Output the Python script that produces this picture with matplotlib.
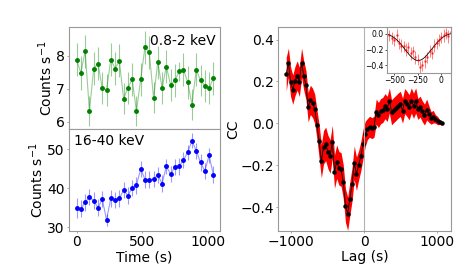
import numpy as np
import matplotlib
matplotlib.use("Agg")
import matplotlib.pyplot as plt

# light curves (33 bins)
time = [0, 32.5, 65, 97.5, 130, 162.5, 195, 227.5, 260, 292.5, 325,
        357.5, 390, 422.5, 455, 487.5, 520, 552.5, 585, 617.5, 650,
        682.5, 715, 747.5, 780, 812.5, 845, 877.5, 910, 942.5, 975,
        1007.5, 1040]
soft_rate = [7.88, 7.49, 8.15, 6.33, 7.62, 7.77, 7.03, 6.97, 7.89, 7.62, 7.85,
             6.71, 7.04, 7.29, 6.33, 7.29, 8.27, 8.11, 6.73, 7.81, 7.03,
             7.68, 7.12, 7.26, 7.53, 7.59, 7.20, 6.53, 7.59, 7.26, 7.10,
             7.03, 7.32]
soft_err = [0.5, 0.52, 0.5, 0.45, 0.5, 0.5, 0.48, 0.48, 0.5, 0.5, 0.5,
            0.47, 0.48, 0.5, 0.45, 0.5, 0.5, 0.5, 0.47, 0.5, 0.48,
            0.5, 0.48, 0.5, 0.3, 0.5, 0.5, 0.46, 0.5, 0.48, 0.48,
            0.48, 0.5]
hard_rate = [34.9, 34.7, 36.4, 37.7, 36.8, 35.0, 37.2, 31.9, 37.4, 37.0, 37.4,
             39.5, 38.1, 40.1, 40.7, 45.0, 42.2, 42.2, 42.3, 43.4, 41.2,
             45.6, 43.6, 45.4, 45.6, 47.2, 49.2, 52.2, 49.6, 46.6, 44.4,
             48.4, 43.5]
hard_err = [2.6, 2.2, 2.2, 2.0, 2.2, 2.2, 2.1, 1.6, 2.2, 2.1, 2.2,
            2.1, 2.1, 2.1, 2.2, 2.0, 2.1, 2.1, 2.1, 2.0, 2.1,
            2.0, 2.1, 2.0, 2.1, 2.1, 2.0, 1.9, 2.0, 2.1, 2.0,
            2.0, 2.1]

# cross-correlation
lag = [-1065, -1035, -1005, -975, -945, -915, -885, -855, -825, -795, -765,
       -735, -705, -675, -645, -615, -585, -555, -525, -495, -465, -435,
       -405, -375, -345, -315, -285, -255, -225, -195, -165, -135, -105,
       -75, -45, -15, 15, 45, 75, 105, 135, 165, 195, 225, 255, 285, 315,
       345, 375, 405, 435, 465, 495, 525, 555, 585, 615, 645, 675, 705,
       735, 765, 795, 825, 855, 885, 915, 945, 975, 1005, 1035, 1065]
cc = [0.235, 0.289, 0.198, 0.161, 0.202, 0.228, 0.198, 0.289, 0.228, 0.182,
      0.077, 0.112, 0.098, 0.069, -0.006,
      -0.086, -0.18, -0.114, -0.098, -0.136, -0.158, -0.089, -0.23, -0.183,
      -0.214, -0.22, -0.278, -0.392, -0.431, -0.359, -0.29, -0.188, -0.24,
      -0.2, -0.156, -0.098, -0.05, -0.027, -0.016, -0.023, -0.016,
      0.056, 0.04, 0.058, 0.064, 0.082, 0.069, 0.109, 0.053, 0.064, 0.074,
      0.085, 0.093, 0.061, 0.106, 0.093, 0.077, 0.109, 0.084, 0.109, 0.069,
      0.08, 0.058, 0.042, 0.066, 0.045, 0.026, 0.032, 0.021, 0.013, 0.005, 0.0]
cc_err = [0.08, 0.07, 0.07, 0.07, 0.07, 0.07, 0.07, 0.07, 0.07, 0.07,
          0.07, 0.07, 0.07, 0.07, 0.07,
          0.08, 0.08, 0.08, 0.08, 0.08, 0.08, 0.08, 0.08, 0.08,
          0.08, 0.08, 0.08, 0.08, 0.08, 0.08, 0.08, 0.08, 0.08,
          0.07, 0.07, 0.07, 0.06, 0.05, 0.05, 0.05, 0.05,
          0.06, 0.06, 0.06, 0.06, 0.06, 0.06, 0.06, 0.06, 0.06, 0.06,
          0.06, 0.06, 0.06, 0.06, 0.06, 0.06, 0.06, 0.06, 0.06, 0.05,
          0.05, 0.05, 0.05, 0.05, 0.04, 0.03, 0.03, 0.02, 0.02, 0.01, 0.01]

# inset: finer lag grid + gaussian fit
lag_fine = [-550, -525, -500, -475, -450, -425, -400, -375, -350, -325, -300,
            -275, -250, -225, -200, -175, -150, -125, -100, -75, -50, -25,
            0, 25, 50, 75, 100]
cc_fine = [-0.02, -0.05, -0.08, -0.02, -0.12, -0.15, -0.16, -0.20, -0.17,
           -0.25, -0.22, -0.30, -0.33, -0.42, -0.40, -0.35, -0.30, -0.22,
           -0.25, -0.15, -0.12, -0.08, -0.04, -0.02, 0.01, -0.03, 0.02]
cc_fine_err = [0.07, 0.08, 0.07, 0.08, 0.07, 0.08, 0.07, 0.08, 0.07, 0.08,
               0.07, 0.08, 0.07, 0.08, 0.07, 0.08, 0.07, 0.08, 0.07, 0.08,
               0.07, 0.08, 0.07, 0.08, 0.07, 0.08, 0.07]
fit_const, fit_amp, fit_mu, fit_sigma = 0.02, -0.36, -245.0, 140.0

plt.rcParams['font.size'] = 10

fig = plt.figure(figsize=(4.63, 2.72), dpi=100)
ax1 = fig.add_axes([0.149, 0.526, 0.326, 0.375])
ax2 = fig.add_axes([0.149, 0.151, 0.326, 0.375], sharex=ax1)
ax3 = fig.add_axes([0.600, 0.151, 0.374, 0.750])
axin = fig.add_axes([0.836, 0.732, 0.138, 0.169])

for ax in (ax1, ax2, ax3, axin):
    for sp in ax.spines.values():
        sp.set_color('0.6')
for ax in (ax1, ax2, ax3):
    ax.tick_params(length=1.5, width=0.6, pad=1.5, color='0.6')

# soft band
ax1.errorbar(time, soft_rate, yerr=soft_err, fmt='-', color='green', alpha=0.4, lw=0.8, elinewidth=0.8)
ax1.plot(time, soft_rate, 'o', color='green', ms=2.5)
ax1.set_ylim(5.79, 8.88)
ax1.set_yticks([6, 7, 8])
ax1.tick_params(labelbottom=False)
ax1.text(0.97, 0.93, '0.8-2 keV', transform=ax1.transAxes, ha='right', va='top')
ax1.set_ylabel('Counts s$^{-1}$', labelpad=1)

# hard band
ax2.errorbar(time, hard_rate, yerr=hard_err, fmt='-', color='blue', alpha=0.4, lw=0.8, elinewidth=0.8)
ax2.plot(time, hard_rate, 'o', color='blue', ms=2.5)
ax2.set_ylim(29.05, 55.2)
ax2.set_yticks([30, 40, 50])
ax2.set_xlim(-58, 1090)
ax2.set_xticks([0, 500, 1000])
ax2.text(0.03, 0.95, '16-40 keV', transform=ax2.transAxes, ha='left', va='top')
ax2.set_ylabel('Counts s$^{-1}$', labelpad=1)
ax2.set_xlabel('Time (s)', labelpad=1)

# CCF
lo = np.array(cc) - np.array(cc_err)
hi = np.array(cc) + np.array(cc_err)
ax3.fill_between(lag, lo, hi, color='red', lw=0)
ax3.plot(lag, cc, '-', color='k', lw=0.6)
ax3.plot(lag, cc, 'o', color='k', ms=2.2)
ax3.axvline(0, color='0.7', lw=0.8)
ax3.set_xlim(-1180, 1187)
ax3.set_ylim(-0.513, 0.46)
ax3.set_xticks([-1000, 0, 1000])
ax3.set_yticks([-0.4, -0.2, 0.0, 0.2, 0.4])
ax3.set_xlabel('Lag (s)', labelpad=1)
ax3.set_ylabel('CC', labelpad=0)

# inset
axin.errorbar(lag_fine, cc_fine, yerr=cc_fine_err, fmt='o', color='red', ms=1, alpha=0.5, elinewidth=0.7)
xx = np.linspace(-575, 102, 200)
axin.plot(xx, fit_const + fit_amp * np.exp(-(xx - fit_mu) ** 2 / (2 * fit_sigma ** 2)), color='k', lw=0.6)
axin.set_xlim(-575, 102)
axin.set_ylim(-0.498, 0.089)
axin.set_xticks([-500, -250, 0])
axin.set_yticks([-0.4, -0.2, 0.0])
axin.tick_params(labelsize=5.5, length=1.5, width=0.5, pad=1)

fig.savefig('out.png', dpi=100)
